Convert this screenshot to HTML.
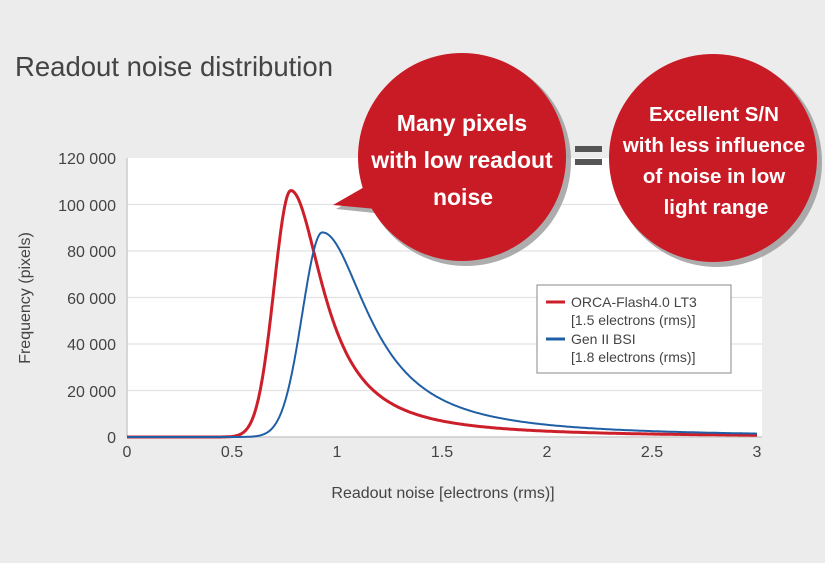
<!DOCTYPE html>
<html><head><meta charset="utf-8"><style>
body{margin:0;width:825px;height:558px;overflow:hidden;background:#ececec;font-family:"Liberation Sans",sans-serif}
</style></head><body>
<svg id="s" width="825" height="558" xmlns="http://www.w3.org/2000/svg" font-family="Liberation Sans, sans-serif">
<rect width="825" height="558" fill="#ececec"/>
<rect x="127" y="158" width="635" height="279" fill="#fff"/>
<g stroke="#e2e2e2" stroke-width="1.2">
<line x1="127" x2="762" y1="204.5" y2="204.5"/><line x1="127" x2="762" y1="251" y2="251"/>
<line x1="127" x2="762" y1="297.5" y2="297.5"/><line x1="127" x2="762" y1="344" y2="344"/>
<line x1="127" x2="762" y1="390.5" y2="390.5"/>
</g>
<line x1="127" y1="158" x2="127" y2="437" stroke="#ccc" stroke-width="1.5"/>
<line x1="127" y1="437" x2="762" y2="437" stroke="#ccc" stroke-width="1.5"/>
<text x="15" y="76" font-size="27.5" fill="#444">Readout noise distribution</text>
<g font-size="16" fill="#444" text-anchor="end">
<text x="116" y="164">120 000</text><text x="116" y="211">100 000</text><text x="116" y="257">80 000</text>
<text x="116" y="304">60 000</text><text x="116" y="350">40 000</text><text x="116" y="397">20 000</text><text x="116" y="443">0</text>
</g>
<g font-size="16" fill="#444" text-anchor="middle">
<text x="127" y="457">0</text><text x="232" y="457">0.5</text><text x="337" y="457">1</text><text x="442" y="457">1.5</text>
<text x="547" y="457">2</text><text x="652" y="457">2.5</text><text x="757" y="457">3</text>
</g>
<text x="443" y="498" font-size="16" fill="#444" text-anchor="middle">Readout noise [electrons (rms)]</text>
<text transform="translate(30,298) rotate(-90)" font-size="16" fill="#444" text-anchor="middle">Frequency (pixels)</text>
<path id="red" fill="none" stroke="#cc1f2a" stroke-width="3"/>
<path id="blue" fill="none" stroke="#1f5fa5" stroke-width="2"/>
<g fill="#999" opacity="0.8">
<circle cx="466" cy="161" r="105"/><circle cx="717" cy="162" r="105"/>
</g>
<path d="M333 206 L380 180 L420 215 Z" fill="#999" opacity="0.8" transform="translate(3,3)"/>
<circle cx="462" cy="157" r="104" fill="#c81b25"/>
<path d="M333 205 L380 178 L420 213 Z" fill="#c81b25"/>
<circle cx="713" cy="158" r="104" fill="#c81b25"/>
<g font-size="23" fill="#fff" font-weight="bold" text-anchor="middle">
<text x="462" y="131">Many pixels</text><text x="462" y="168">with low readout</text><text x="463" y="205">noise</text>
</g>
<g font-size="20.5" fill="#fff" font-weight="bold" text-anchor="middle">
<text x="714" y="121">Excellent S/N</text><text x="714" y="152">with less influence</text>
<text x="714" y="183">of noise in low</text><text x="716" y="214">light range</text>
</g>
<rect x="575" y="146" width="27" height="6" fill="#555"/><rect x="575" y="159" width="27" height="6" fill="#555"/>
<rect x="537" y="285" width="194" height="88" fill="#fff" stroke="#888" stroke-width="1"/>
<line x1="546" x2="565" y1="302" y2="302" stroke="#cc1f2a" stroke-width="3"/>
<line x1="546" x2="565" y1="339" y2="339" stroke="#1f5fa5" stroke-width="3"/>
<g font-size="14" fill="#444">
<text x="571" y="307">ORCA-Flash4.0 LT3</text><text x="571" y="325">[1.5 electrons (rms)]</text>
<text x="571" y="344">Gen II BSI</text><text x="571" y="362">[1.8 electrons (rms)]</text>
</g>
</svg>
<script>
function path(p,A,s,w){let d='';for(let x=0;x<=3.0001;x+=0.005){let v=x<p?A*Math.exp(-Math.pow((x-p)/s,2)/2):A/(1+Math.pow((x-p)/w,2));let X=127+x*210,Y=437-v*0.002325;d+=(d?'L':'M')+X.toFixed(1)+' '+Y.toFixed(1);}return d;}
document.getElementById('red').setAttribute('d',path(0.78,106000,0.08,0.19));
document.getElementById('blue').setAttribute('d',path(0.93,88000,0.095,0.27));
</script>
</body></html>
